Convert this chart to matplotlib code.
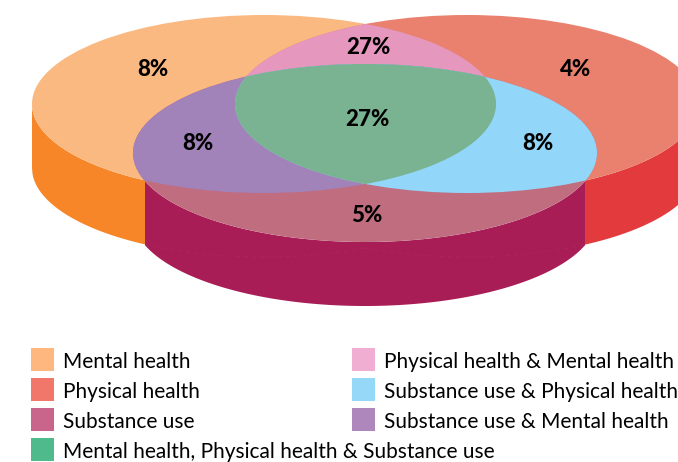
import matplotlib
matplotlib.use("Agg")
import matplotlib.pyplot as plt
import numpy as np
from matplotlib.patches import Ellipse, Polygon, Rectangle

# percentages shown in each region of the venn
region_labels = ['8%', '4%', '5%', '27%', '8%', '8%', '27%']
region_xy = [(153, 70), (576, 70), (367, 216), (368, 47), (538, 143), (198, 143), (367, 120)]

legend_left = ['Mental health', 'Physical health', 'Substance use',
               'Mental health, Physical health & Substance use']
legend_left_colors = ['#FDB77F', '#F0776A', '#C9648A', '#4FBA8B']
legend_right = ['Physical health & Mental health', 'Substance use & Physical health',
                'Substance use & Mental health']
legend_right_colors = ['#F0AED2', '#96D8F7', '#AE87BC']

# ellipse geometry in image pixels
A, B, DEPTH = 232, 89, 64
mental_c = (264, 104)
physical_c = (467, 104)
substance_c = (365, 153)

plt.rcParams['font.family'] = ['Lato', 'DejaVu Sans']

fig = plt.figure(figsize=(6.78, 4.62), dpi=100)
ax = fig.add_axes([0, 0, 1, 1])
ax.set_xlim(0, 678)
ax.set_ylim(462, 0)
ax.axis('off')


def ell(c, color, **kw):
    e = Ellipse(c, 2 * A, 2 * B, facecolor=color, edgecolor='none', **kw)
    ax.add_patch(e)
    return e


def wall(c, x0, x1, color):
    # side of the disc between x0 and x1
    x = np.linspace(x0, x1, 200)
    y = c[1] + B * np.sqrt(np.clip(1 - ((x - c[0]) / A) ** 2, 0, 1))
    pts = np.vstack([np.c_[x, y], np.c_[x[::-1], y[::-1] + DEPTH]])
    ax.add_patch(Polygon(pts, closed=True, facecolor=color, edgecolor='none'))


def seam(c, x0, x1):
    # hidden lower edge of a back disc, barely showing on the front wall
    x = np.linspace(x0, x1, 100)
    y = c[1] + DEPTH + B * np.sqrt(1 - ((x - c[0]) / A) ** 2)
    ax.plot(x, y, color='#B8304F', lw=0.5, ls=(0, (6, 6)), alpha=0.5, zorder=1)


def lens(c1, c2):
    # overlap of two ellipses as a polygon
    t = np.linspace(0, 2 * np.pi, 720, endpoint=False)
    p1 = np.c_[c1[0] + A * np.cos(t), c1[1] + B * np.sin(t)]
    p2 = np.c_[c2[0] + A * np.cos(t), c2[1] + B * np.sin(t)]
    in2 = ((p1[:, 0] - c2[0]) / A) ** 2 + ((p1[:, 1] - c2[1]) / B) ** 2 <= 1
    in1 = ((p2[:, 0] - c1[0]) / A) ** 2 + ((p2[:, 1] - c1[1]) / B) ** 2 <= 1
    pts = np.vstack([p1[in2], p2[in1]])
    ang = np.arctan2(pts[:, 1] - pts[:, 1].mean(), pts[:, 0] - pts[:, 0].mean())
    return pts[np.argsort(ang)]


# side walls
wall(mental_c, mental_c[0] - A, 145, '#F68627')
wall(physical_c, 585, physical_c[0] + A, '#E33A3E')
wall(substance_c, 145, 585, '#A91D57')
seam(mental_c, 145, 365)
seam(physical_c, 365, 585)

# top faces
m = ell(mental_c, '#FBB982')
p = ell(physical_c, '#E9816E')
overlap = ell(physical_c, '#E597BE')
overlap.set_clip_path(m)
s = ell(substance_c, '#BF6D7F')
purple = ell(mental_c, '#A182B9')
purple.set_clip_path(s)
blue = ell(physical_c, '#92D6F9')
blue.set_clip_path(s)
green = Polygon(lens(mental_c, physical_c), closed=True, facecolor='#79B391', edgecolor='none')
ax.add_patch(green)
green.set_clip_path(s)

for (x, y), lab in zip(region_xy, region_labels):
    ax.text(x, y, lab, ha='center', va='center', fontsize=16, fontweight='black', color='black')

# legend, drawn by hand because of the uneven columns
row_y = [348, 378, 408, 438]
for i, lab in enumerate(legend_left):
    ax.add_patch(Rectangle((31, row_y[i]), 23, 23, facecolor=legend_left_colors[i], edgecolor='none'))
    ax.text(63, row_y[i] + 14, lab, ha='left', va='center', fontsize=15.0, color='black')
for i, lab in enumerate(legend_right):
    ax.add_patch(Rectangle((352, row_y[i]), 23, 23, facecolor=legend_right_colors[i], edgecolor='none'))
    ax.text(384, row_y[i] + 14, lab, ha='left', va='center', fontsize=15.0, color='black')

fig.savefig('out.png', dpi=100)
